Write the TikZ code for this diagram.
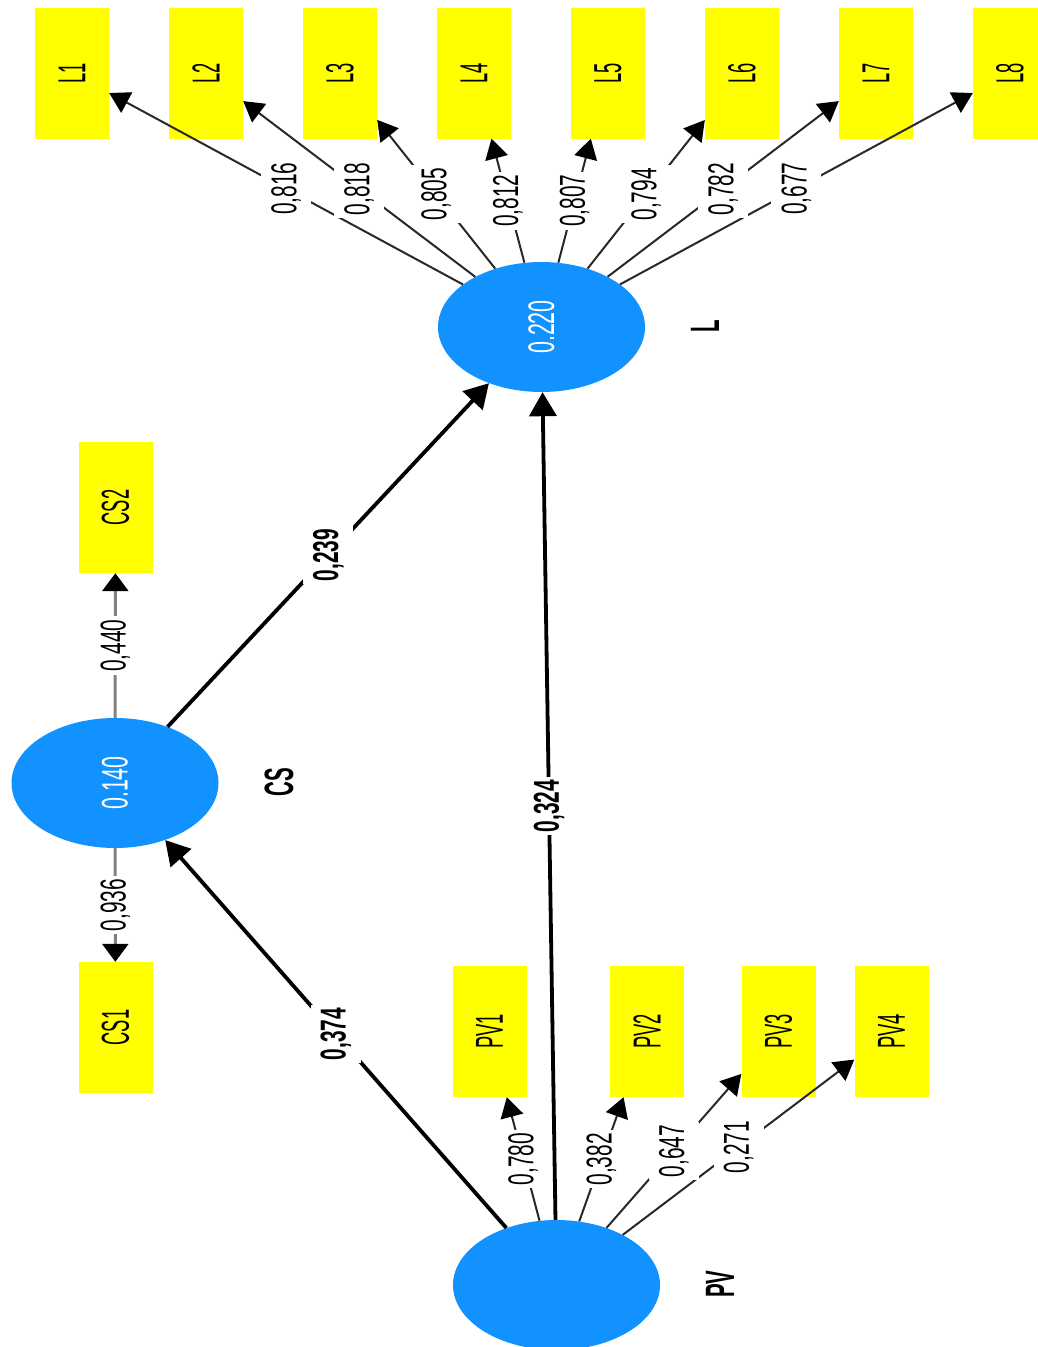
\documentclass[tikz,border=0pt]{standalone}
\usepackage{fontspec}
\setmainfont{Liberation Sans}
\usetikzlibrary{shapes.geometric,arrows.meta}

\definecolor{plsblue}{RGB}{17,146,255}
\definecolor{plsyellow}{RGB}{255,255,0}
\definecolor{loadline}{RGB}{40,40,40}
\definecolor{csline}{RGB}{128,128,128}

% text set upright (reading bottom to top), condensed along its own direction
\newcommand\uptext[2]{\rotatebox{90}{\scalebox{#1}[1]{#2}}}

\begin{document}
\begin{tikzpicture}[x=1pt,y=-1pt,
  latent/.style={ellipse, fill=plsblue, minimum width=207pt, minimum height=130pt,
    inner sep=0pt, text=white, font=\fontsize{37}{42}\selectfont},
  indicator/.style={rectangle, fill=plsyellow, minimum width=74pt, minimum height=131pt,
    inner sep=0pt, font=\fontsize{39}{44}\selectfont},
  lvname/.style={inner sep=0pt, font=\bfseries\fontsize{41}{46}\selectfont},
  loading/.style={draw=loadline, line width=2pt, -{Triangle[length=20pt,width=23pt,color=black]}},
  csload/.style={draw=csline, line width=3pt, -{Triangle[length=18pt,width=26pt,color=black]}},
  structural/.style={draw=black, line width=3.8pt, -{Triangle[length=24pt,width=27pt]}},
  weight/.style={fill=white, inner xsep=0pt, inner ysep=3pt, minimum width=50pt,
    font=\fontsize{36}{41}\selectfont},
  pathweight/.style={weight, font=\bfseries\fontsize{36}{41}\selectfont},
]
\useasboundingbox (0,0) rectangle (1038,1347);
\clip (0,0) rectangle (1038,1347);

% latent variables
\node[latent] (L)  at (541.5,327) {\uptext{0.58}{0.220}};
\node[latent] (CS) at (115,783)   {\uptext{0.58}{0.140}};
\node[latent] (PV) at (556.5,1285) {};

\node[lvname] (Lname)  at (705,326)  {\uptext{0.5}{L}};
\node[lvname] (CSname) at (279,782)  {\uptext{0.5}{CS}};
\node[lvname] (PVname) at (720,1284) {\uptext{0.5}{PV}};

% indicators of L
\foreach \i/\x in {1/72,2/206,3/340,4/474,5/608,6/742,7/876,8/1010}
  \node[indicator] (L\i) at (\x,73) {\uptext{0.47}{L\i}};

% indicators of CS
\node[indicator] (CS2) at (115.5,507.5)  {\uptext{0.47}{CS2}};
\node[indicator] (CS1) at (115.5,1027.5) {\uptext{0.47}{CS1}};

% indicators of PV
\node[indicator] (PV1) at (489.5,1031.5) {\uptext{0.47}{PV1}};
\node[indicator] (PV2) at (647,1031.5)   {\uptext{0.47}{PV2}};
\node[indicator] (PV3) at (778.5,1031.5) {\uptext{0.47}{PV3}};
\node[indicator] (PV4) at (891.5,1031.5) {\uptext{0.47}{PV4}};

% outer loadings
\foreach \i in {1,...,8}
  \draw[loading] (L) -- (L\i);
\foreach \i in {1,...,4}
  \draw[loading] (PV) -- (PV\i);
\draw[csload] (CS) -- (CS2);
\draw[csload] (CS) -- (CS1);

% loading weights
\foreach \i/\w in {1/{0,816},2/{0,818},3/{0,805},4/{0,812},5/{0,807},6/{0,794},7/{0,782},8/{0,677}}
  \path (L) -- (L\i) node[midway, weight] {\uptext{0.58}{\w}};
\foreach \i/\w in {1/{0,780},2/{0,382},3/{0,647},4/{0,271}}
  \path (PV) -- (PV\i) node[midway, weight] {\uptext{0.58}{\w}};
\path (CS) -- (CS2) node[midway, weight] {\uptext{0.58}{0,440}};
\path (CS) -- (CS1) node[midway, weight] {\uptext{0.58}{0,936}};

% structural paths
\draw[structural] (PV) -- (CS);
\draw[structural] (CS) -- (L);
\draw[structural] (PV) -- (L);
\path (PV) -- (CS) node[midway, pathweight] {\uptext{0.58}{0,374}};
\path (CS) -- (L)  node[midway, pathweight] {\uptext{0.58}{0,239}};
\path (PV) -- (L)  node[midway, pathweight] {\uptext{0.58}{0,324}};
\end{tikzpicture}
\end{document}
